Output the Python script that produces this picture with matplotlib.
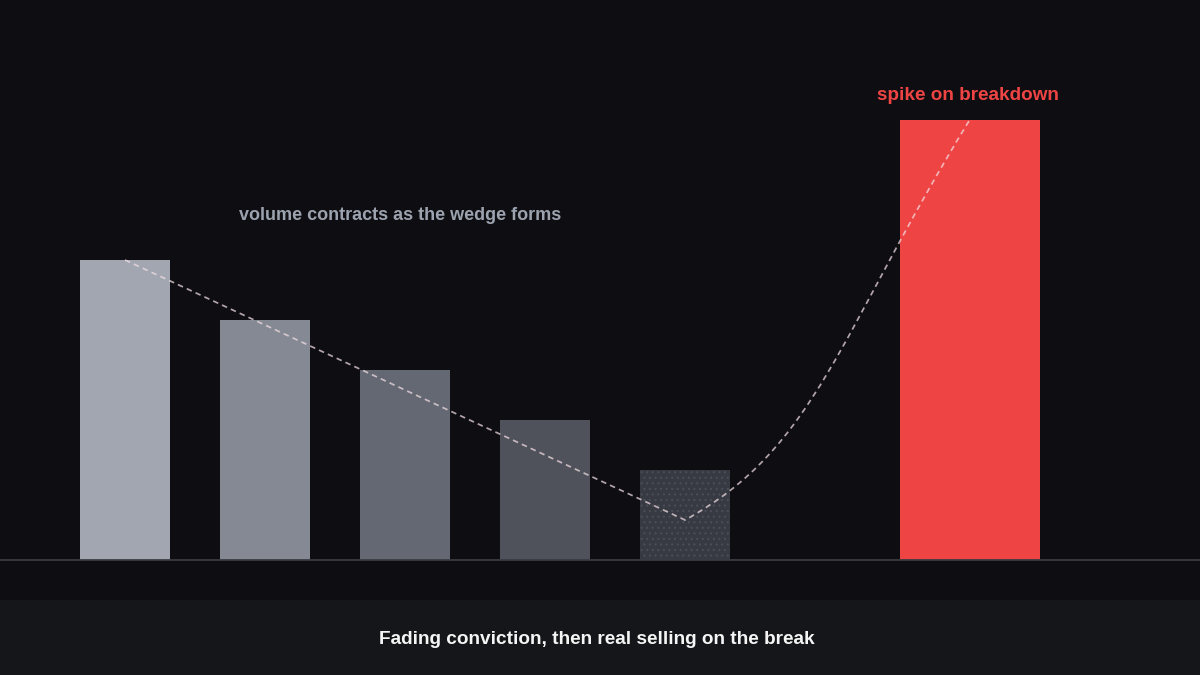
import matplotlib
matplotlib.use("Agg")
import matplotlib.pyplot as plt
from matplotlib.path import Path
from matplotlib.patches import PathPatch, Rectangle

plt.rcParams['font.family'] = ['Liberation Sans', 'DejaVu Sans']
plt.rcParams['lines.scale_dashes'] = False
plt.rcParams['hatch.linewidth'] = 0.8

# data
positions = [0, 1, 2, 3, 4, 6.033]
volumes = [30, 24, 19, 14, 9, 44]
widths = [0.643, 0.643, 0.643, 0.643, 0.643, 1.0]
bar_colors = ['#a1a6b1', '#858993', '#646872', '#50525b', '#373a42', '#ef4444']

# trend: straight fade down, then curve up into the spike
trend_x = [0, 4, 4.94, 5.1, 6.033]
trend_y = [30, 4, 11.2, 22.7, 44]

bg = '#0e0e12'
fig = plt.figure(figsize=(12, 6.75), dpi=100, facecolor=bg)
ax = fig.add_axes([0, 115 / 675, 1, 560 / 675])
ax.set_facecolor(bg)
ax.set_xlim(-125 / 140, 1075 / 140)
ax.set_ylim(0, 56)
ax.axis('off')

bars = ax.bar(positions, volumes, width=widths, color=bar_colors, linewidth=0, zorder=2)
bars[4].set_hatch('...')
bars[4].set_edgecolor('#4b4e57')

ax.axhline(0, color='#3b3c42', lw=1.3, clip_on=False, zorder=3)

verts = list(zip(trend_x, trend_y))
codes = [Path.MOVETO, Path.LINETO, Path.CURVE4, Path.CURVE4, Path.CURVE4]
trend = PathPatch(Path(verts, codes), fill=False, edgecolor='#f3dfe4', alpha=0.72,
                  lw=1.25, linestyle=(0, (4, 3)), zorder=4)
ax.add_patch(trend)

ax.text(1.964, 34.5, 'volume contracts as the wedge forms', color='#9ca3af',
        fontsize=13.0, fontweight='bold', ha='center', va='center')
ax.text(6.018, 46.5, 'spike on breakdown', color='#ef4444',
        fontsize=13.6, fontweight='bold', ha='center', va='center')

fig.patches.append(Rectangle((0, 0), 1, 75 / 675, transform=fig.transFigure,
                             facecolor='#15161a', edgecolor='none', zorder=0))
fig.text(0.4975, 36 / 675, 'Fading conviction, then real selling on the break',
         color='#f5f5f5', fontsize=13.7, fontweight='bold', ha='center', va='center')

plt.savefig('out.png', dpi=100, facecolor=bg)
